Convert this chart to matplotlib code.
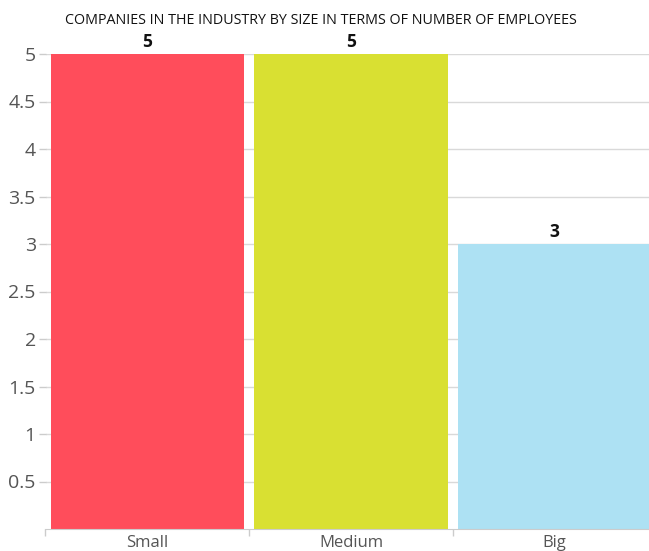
import matplotlib
matplotlib.use("Agg")
import matplotlib.pyplot as plt

categories = ["Small", "Medium", "Big"]
values = [5, 5, 3]
colors = ["#FF4D5B", "#D9E032", "#ADE1F3"]
yticks = [0.5, 1, 1.5, 2, 2.5, 3, 3.5, 4, 4.5, 5]
ytick_labels = ["0.5", "1", "1.5", "2", "2.5", "3", "3.5", "4", "4.5", "5"]
title = "COMPANIES IN THE INDUSTRY BY SIZE IN TERMS OF NUMBER OF EMPLOYEES"

plt.rcParams['font.family'] = ['Open Sans', 'DejaVu Sans']

fig = plt.figure(figsize=(6.49, 5.51), dpi=100)
ax = fig.add_axes([45.5/649, 22/551, 611/649, 475/551])

x = list(range(len(categories)))
bars = ax.bar(x, values, width=0.948, color=colors, zorder=2)
for xi, v in zip(x, values):
    ax.annotate(str(v), (xi, v), xytext=(0, 2), textcoords="offset points",
                ha="center", va="bottom", fontsize=12.5, fontweight="bold", color="#111111")

ax.set_xlim(-0.5, 2.5)
ax.set_ylim(0, 5)
ax.set_yticks(yticks)
ax.set_yticklabels(ytick_labels)
ax.set_xticks(x)
ax.set_xticklabels(categories)
ax.set_xticks([-0.5, 0.5, 1.5, 2.5], minor=True)
ax.tick_params(axis="x", which="major", length=0, pad=4.5, labelsize=12, labelcolor="#555555")
ax.tick_params(axis="x", which="minor", length=5, color="#cccccc", width=1)
ax.tick_params(axis="y", length=5, color="#cccccc", width=1, labelsize=14, labelcolor="#555555", pad=2)
ax.grid(axis="y", color="#d9d9d9", linewidth=1, zorder=0)
for s in ["top", "right", "left"]:
    ax.spines[s].set_visible(False)
ax.spines["bottom"].set_color("#cccccc")
ax.spines["bottom"].set_zorder(3)

fig.text(0.495, 1 - 21/551, title, ha="center", va="center", fontsize=10.3, color="#111111")

fig.savefig("out.png", dpi=100)
